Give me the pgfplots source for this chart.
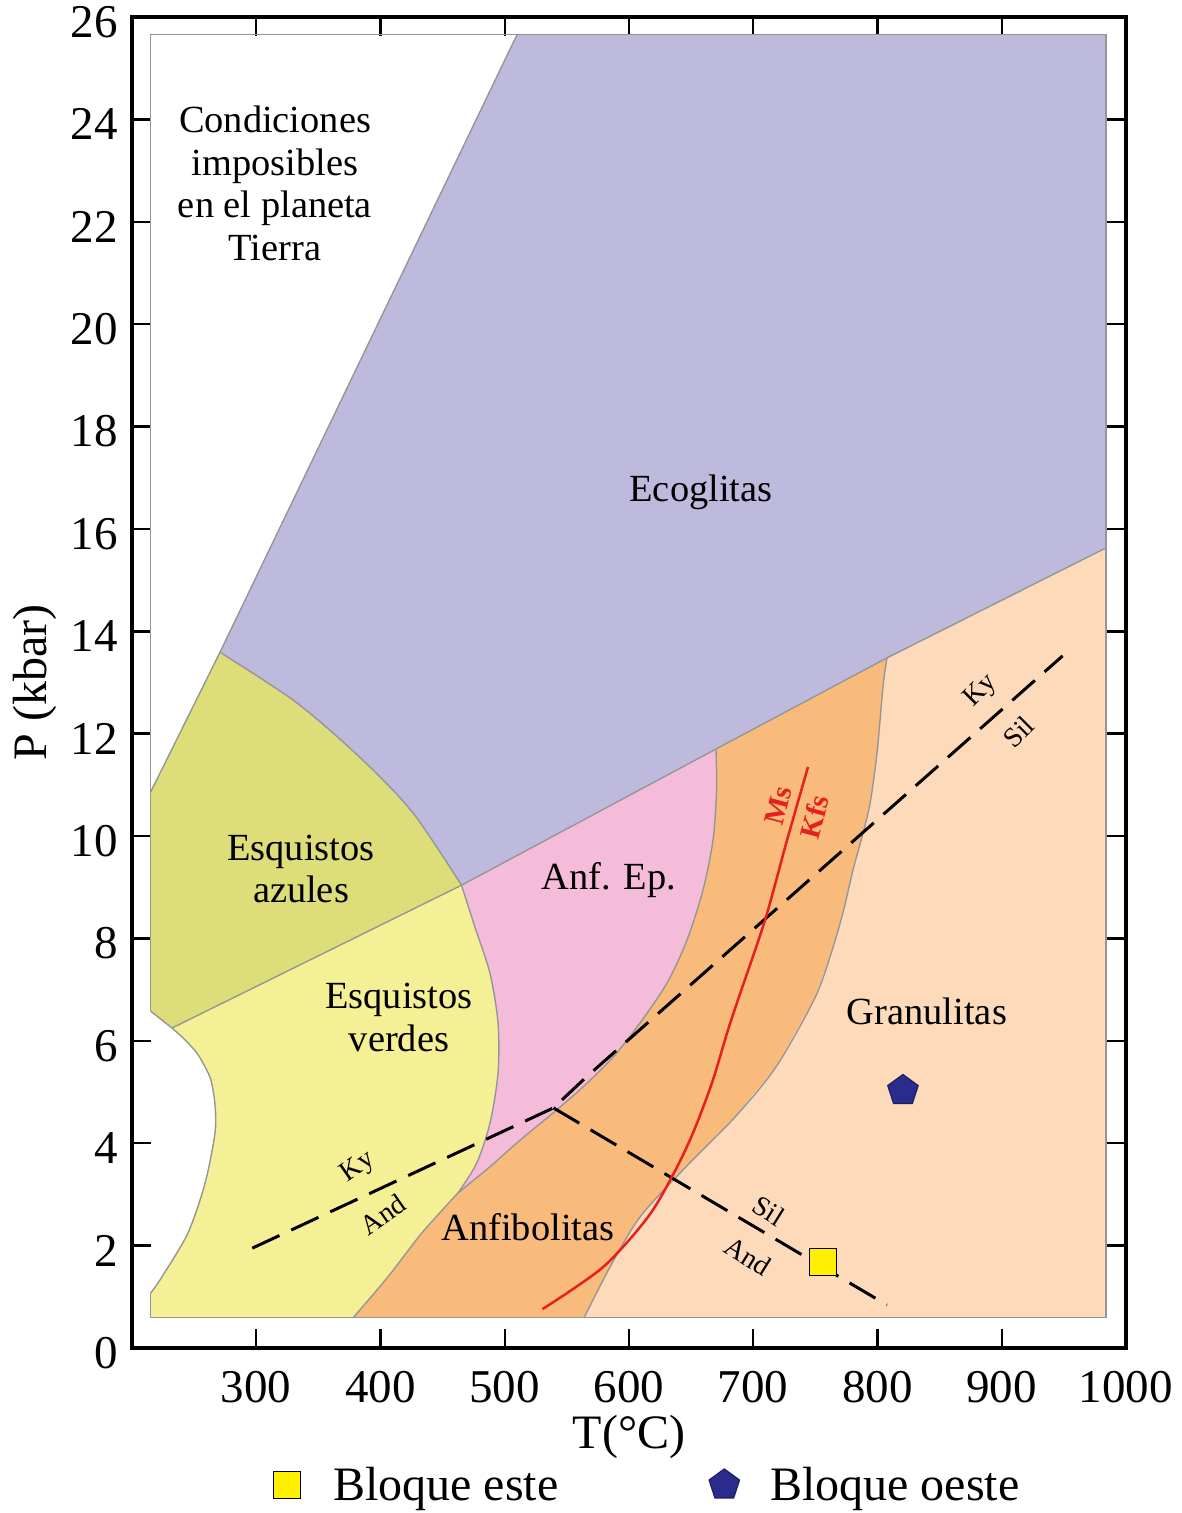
\documentclass[border=0pt]{standalone}
\usepackage{fontspec}
\setmainfont{Liberation Serif}
\usepackage{pgfplots}
\pgfplotsset{compat=1.18}
\usetikzlibrary{plotmarks}

\definecolor{cEco}{HTML}{BDBADD}
\definecolor{cAzul}{HTML}{DDDD7A}
\definecolor{cVerde}{HTML}{F5F096}
\definecolor{cAnfEp}{HTML}{F5BCDA}
\definecolor{cAnf}{HTML}{F8BB7C}
\definecolor{cGran}{HTML}{FDDBBA}
\definecolor{cBorde}{RGB}{150,150,150}
\definecolor{cRojo}{HTML}{E6201F}
\definecolor{cEste}{HTML}{FFF000}
\definecolor{cOeste}{HTML}{2A2C8C}

\pgfplotsset{bord/.style={forget plot, draw=cBorde, line width=0.7bp}}
\tikzset{
  lab/.style={font=\fontsize{19.2bp}{21.3bp}\selectfont, align=center, inner sep=0pt},
  chico/.style={font=\fontsize{14bp}{16bp}\selectfont, inner sep=0pt},
}

\begin{document}
\begin{tikzpicture}
\begin{axis}[
  scale only axis, width=497bp, height=665.5bp,
  xmin=200, xmax=1000, ymin=0, ymax=26,
  xtick={300,400,...,1000}, ytick={0,2,...,26},
  tick align=inside, major tick length=9.5bp,
  tick style={black, line width=1.2bp},
  axis line style={black, line width=2.3bp},
  /pgf/number format/assume math mode=true,
  /pgf/number format/1000 sep={},
  tick label style={font=\fontsize{23.5bp}{28bp}\selectfont, inner sep=0pt},
  xticklabel style={anchor=north, yshift=-11.5bp},
  yticklabel style={anchor=east, xshift=-7bp, yshift=-2.5bp},
  xlabel={T(°C)}, ylabel={P (kbar)},
  every axis x label/.style={at={(axis description cs:0.5,-0.0669)}, anchor=center,
    inner sep=0pt, font=\fontsize{24bp}{28bp}\selectfont},
  every axis y label/.style={at={(axis description cs:-0.0976,0.5)}, rotate=90, anchor=center,
    inner sep=0pt, font=\fontsize{24bp}{28bp}\selectfont},
  legend columns=2,
  legend style={draw=none, fill=none, inner sep=0pt, outer sep=0pt,
    at={(axis description cs:0.1399,-0.1029)}, anchor=west,
    font=\fontsize{24bp}{28bp}\selectfont,
    /tikz/every even column/.append style={column sep=73bp}},
  legend image code/.code={\path[draw=none, fill=none] (0bp,0bp) rectangle (29bp,0bp);
    \draw[#1] plot coordinates {(8bp,0bp)};},
]

% --- campos (relleno) ---
\addplot[forget plot, fill=cEco, draw=none] coordinates {
  (510,25.66) (984,25.66) (984,15.63) (807.6,13.48) (670.0,11.70) (465.2,9.04)
  (426.2,10.45) (385.9,11.48) (332.8,12.60) (270.8,13.59) (510,25.66)};
\addplot[forget plot, fill=cAzul, draw=none] coordinates {
  (270.8,13.59) (215,10.86) (215,6.58) (232.2,6.25) (465.2,9.04)
  (426.2,10.45) (385.9,11.48) (332.8,12.60) (270.8,13.59)};
\addplot[forget plot, fill=cVerde, draw=none] coordinates {
  (232.2,6.25) (465.2,9.04) (475.9,8.23) (488.1,7.32) (494.6,6.35) (494.6,5.37)
  (488.1,4.39) (477.4,3.61) (462.4,3.03) (433.4,2.25) (406.0,1.39) (377.9,0.59)
  (215,0.59) (215,1.07) (224.1,1.39) (245.1,2.25) (258.8,3.22) (266.8,4.20)
  (266.8,4.75) (263.6,5.23) (258.8,5.49) (252.3,5.76) (242.7,6.02) (232.2,6.25)};
\addplot[forget plot, fill=cAnfEp, draw=none] coordinates {
  (670.0,11.70) (670.5,10.90) (667.6,9.92) (659.6,8.95) (646.7,7.97) (630.6,7.13)
  (608.9,6.35) (587.1,5.68) (563.0,5.10) (538.8,4.59) (512.3,4.06) (488.1,3.54)
  (472.0,3.22) (462.4,3.03) (477.4,3.61) (488.1,4.39) (494.6,5.37) (494.6,6.35)
  (488.1,7.32) (475.9,8.23) (465.2,9.04) (670.0,11.70)};
\addplot[forget plot, fill=cAnf, draw=none] coordinates {
  (670.0,11.70) (807.6,13.48) (804.4,12.91) (799.6,11.62) (794.0,10.64) (787.5,9.98)
  (780.3,9.34) (772.2,8.50) (761.8,7.64) (748.9,6.80) (718.3,5.49) (685.3,4.51)
  (645.9,3.54) (608.9,2.56) (584.7,1.58) (563.8,0.59) (377.9,0.59) (406.0,1.39)
  (433.4,2.25) (462.4,3.03) (472.0,3.22) (488.1,3.54) (512.3,4.06) (538.8,4.59)
  (563.0,5.10) (587.1,5.68) (608.9,6.35) (630.6,7.13) (646.7,7.97) (659.6,8.95)
  (667.6,9.92) (670.5,10.90) (670.0,11.70)};
\addplot[forget plot, fill=cGran, draw=none] coordinates {
  (807.6,13.48) (984,15.63) (984,0.59) (563.8,0.59) (584.7,1.58) (608.9,2.56)
  (645.9,3.54) (685.3,4.51) (718.3,5.49) (748.9,6.80) (761.8,7.64) (772.2,8.50)
  (780.3,9.34) (787.5,9.98) (794.0,10.64) (799.6,11.62) (804.4,12.91) (807.6,13.48)};

% --- limites ---
\addplot[bord] coordinates {(215,6.58) (215,25.66) (984,25.66) (984,0.59) (215,0.59) (215,1.07)};
\addplot[bord] coordinates {(270.8,13.59) (510,25.66)};
\addplot[bord] coordinates {(984,15.63) (807.6,13.48) (670.0,11.70) (465.2,9.04)};
\addplot[bord, smooth, tension=0.5] coordinates {
  (465.2,9.04) (426.2,10.45) (385.9,11.48) (332.8,12.60) (270.8,13.59)};
\addplot[bord] coordinates {(270.8,13.59) (215,10.86)};
\addplot[bord] coordinates {(215,6.58) (232.2,6.25) (465.2,9.04)};
\addplot[bord, smooth, tension=0.5] coordinates {
  (465.2,9.04) (475.9,8.23) (488.1,7.32) (494.6,6.35) (494.6,5.37) (488.1,4.39)
  (477.4,3.61) (462.4,3.03)};
\addplot[bord, smooth, tension=0.5] coordinates {
  (462.4,3.03) (433.4,2.25) (406.0,1.39) (377.9,0.59)};
\addplot[bord, smooth, tension=0.5] coordinates {
  (670.0,11.70) (670.5,10.90) (667.6,9.92) (659.6,8.95) (646.7,7.97) (630.6,7.13)
  (608.9,6.35) (587.1,5.68) (563.0,5.10) (538.8,4.59) (512.3,4.06) (488.1,3.54)
  (472.0,3.22) (462.4,3.03)};
\addplot[bord, smooth, tension=0.5] coordinates {
  (807.6,13.48) (804.4,12.91) (799.6,11.62) (794.0,10.64) (787.5,9.98) (780.3,9.34)
  (772.2,8.50) (761.8,7.64) (748.9,6.80) (718.3,5.49) (685.3,4.51) (645.9,3.54)
  (608.9,2.56) (584.7,1.58) (563.8,0.59)};
\addplot[bord, smooth, tension=0.5] coordinates {
  (232.2,6.25) (242.7,6.02) (252.3,5.76) (258.8,5.49) (263.6,5.23) (266.8,4.75)
  (266.8,4.20) (258.8,3.22) (245.1,2.25) (224.1,1.39) (215,1.07)};

% --- reacciones ---
\addplot[forget plot, black, line width=1.5bp, dash pattern=on 15bp off 6.5bp] coordinates {
  (296.8,1.95) (539.2,4.69) (564.6,5.27) (949.0,13.52)};
\addplot[forget plot, black, line width=1.5bp, dash pattern=on 15bp off 6.5bp] coordinates {
  (539.2,4.69) (807.6,0.84)};
\addplot[forget plot, cRojo, line width=1.25bp, smooth, tension=0.5] coordinates {
  (530.4,0.76) (579.1,1.58) (615.3,2.56) (636.2,3.42) (651.5,4.20) (666.8,5.18)
  (678.9,6.15) (687.7,6.80) (709.5,8.36) (727.2,9.92) (744.1,11.35)};

% --- muestras ---
\addplot[only marks, mark=square*, mark size=6.7bp,
  mark options={fill=cEste, draw=black, line width=0.6bp}] coordinates {(756.1,1.68)};
\addlegendentry{Bloque este}
\addplot[only marks, mark=pentagon*, mark size=8bp,
  mark options={fill=cOeste, draw=cOeste!70!black, line width=0.6bp}] coordinates {(820.5,5.03)};
\addlegendentry{Bloque oeste}

% --- rotulos ---
\node[lab] at (axis cs:315.1,22.75) {Condiciones\\imposibles\\en el planeta\\Tierra};
\node[lab] at (axis cs:657.9,16.72) {Ecoglitas};
\node[lab] at (axis cs:336.0,9.36) {Esquistos\\azules};
\node[lab] at (axis cs:414.9,6.46) {Esquistos\\verdes};
\node[lab] at (axis cs:583.9,9.14) {Anf. Ep.};
\node[lab] at (axis cs:839.8,6.58) {Granulitas};
\node[lab] at (axis cs:518.7,2.36) {Anfibolitas};

\node[chico, rotate=35] at (axis cs:382.0,3.53) {Ky};
\node[chico, rotate=35] at (axis cs:402.0,2.61) {And};
\node[chico, rotate=45] at (axis cs:883.4,12.83) {Ky};
\node[chico, rotate=45] at (axis cs:913.4,12.03) {Sil};
\node[chico, rotate=-32] at (axis cs:712.3,2.68) {Sil};
\node[chico, rotate=-32] at (axis cs:695.6,1.79) {And};
\node[chico, rotate=75, text=cRojo, font=\bfseries\fontsize{14.5bp}{16bp}\selectfont] at (axis cs:720.5,10.60) {Ms};
\node[chico, rotate=75, text=cRojo, font=\bfseries\fontsize{14.5bp}{16bp}\selectfont] at (axis cs:749.1,10.38) {Kfs};

\coordinate (sw) at (rel axis cs:0,0);
\coordinate (ne) at (rel axis cs:1,1);
\end{axis}
\path ([xshift=-66bp,yshift=-82.5bp]sw) rectangle ([xshift=28bp,yshift=8.5bp]ne);
\end{tikzpicture}
\end{document}
